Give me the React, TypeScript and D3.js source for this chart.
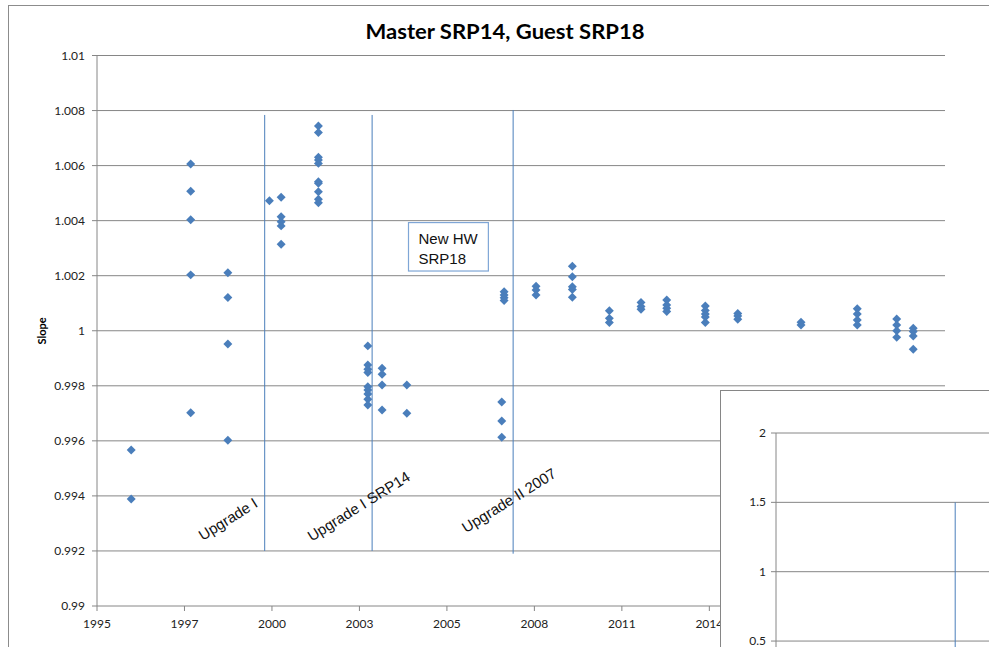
import React from "react";
import * as d3 from "d3";

// measurement dates and the slope readings taken on each date
const obsDates = [
  "1996-01-27", "1997-12-07", "1999-02-05", "2000-05-25", "2000-10-06",
  "2001-12-06", "2003-06-24", "2003-12-04", "2004-09-12", "2007-09-02",
  "2007-09-29", "2008-09-28", "2009-11-17", "2011-01-14", "2012-01-11",
  "2012-10-31", "2014-01-15", "2015-01-21", "2017-01-13", "2018-10-18",
  "2020-01-12", "2020-07-19",
];

const slopes = [
  [0.99567, 0.99389],
  [1.00606, 1.00507, 1.00403, 1.00203, 0.99702],
  [1.00211, 1.00121, 0.99952, 0.99602],
  [1.00472],
  [1.00485, 1.00414, 1.00396, 1.00381, 1.00314],
  [1.00744, 1.0072, 1.0063, 1.0062, 1.00608, 1.00541, 1.00536, 1.00505, 1.00478, 1.00465],
  [0.99945, 0.99876, 0.9986, 0.99848, 0.99797, 0.99785, 0.9977, 0.99751, 0.9973],
  [0.99864, 0.99842, 0.99803, 0.99712],
  [0.99803, 0.997],
  [0.99741, 0.99672, 0.99613],
  [1.00142, 1.0013, 1.0012, 1.0011],
  [1.00162, 1.00148, 1.0013],
  [1.00234, 1.00196, 1.0016, 1.0015, 1.00122],
  [1.00073, 1.00045, 1.0003],
  [1.00103, 1.00088, 1.00078],
  [1.00112, 1.00094, 1.00082, 1.0007],
  [1.0009, 1.00074, 1.00061, 1.0005, 1.0003],
  [1.00063, 1.00054, 1.00042],
  [1.00031, 1.00021],
  [1.0008, 1.00061, 1.00039, 1.00021],
  [1.00043, 1.00021, 1.0, 0.99976],
  [1.00009, 0.99997, 0.99981, 0.99933],
];

// upgrade marker lines: date, top, bottom
const upgradeDates = ["2000-04-01", "2003-08-12", "2008-01-10"];
const upgradeTops = [1.00784, 1.00784, 1.00802];
const upgradeBottoms = [0.992, 0.992, 0.9919];

// rotated notes (baseline start)
const noteTexts = ["Upgrade I", "Upgrade I SRP14", "Upgrade II 2007"];
const noteDates = ["1998-04-25", "2001-09-20", "2006-07-21"];
const noteValues = [0.99236, 0.99233, 0.99264];

// text box
const boxLines = ["New HW", "SRP18"];
const boxDates = ["2004-10-01", "2007-04-02"];
const boxValues = [1.00393, 1.00217];

const yTicks = [0.99, 0.992, 0.994, 0.996, 0.998, 1, 1.002, 1.004, 1.006, 1.008, 1.01];
const insetTicks = [0.5, 1, 1.5, 2];

const W = 989;
const H = 647;
const BLUE = "#4A7EBB";
const GRID = "#868686";
const FONT = "Lato, 'Liberation Sans', sans-serif";

const parse = d3.utcParse("%Y-%m-%d");

const App = () => {
  const start = parse("1995-01-01")!;
  const x = d3.scaleUtc().domain([start, parse("2021-07-17")!]).range([97, 945]);
  const y = d3.scaleLinear().domain([0.99, 1.01]).range([606, 55.5]);

  // Excel date axis: major unit 1000 days
  const xTicks = d3.range(0, 10).map((i) => d3.utcDay.offset(start, i * 1000));
  const yearFmt = d3.utcFormat("%Y");

  const diamond = d3.symbol().type(d3.symbolSquare).size(40)();

  const points = obsDates.flatMap((ds, i) =>
    slopes[i].map((v) => ({ date: parse(ds)!, v }))
  );

  // inset chart scales
  const iy = d3.scaleLinear().domain([0, 2]).range([710.4, 433]);
  const ix = d3.scaleLinear().domain([0, 1]).range([776, 1000]);
  const insetLine = 0.8;

  const bx0 = x(parse(boxDates[0])!);
  const bx1 = x(parse(boxDates[1])!);
  const by0 = y(boxValues[0]);
  const by1 = y(boxValues[1]);

  return (
    <div style={{ position: "fixed", left: 0, top: 0 }}>
      <svg width={W} height={H} style={{ display: "block", background: "#fff" }}>
        {/* chart border */}
        <rect x={8.5} y={5.5} width={W + 10} height={H + 10} fill="#fff" stroke="#8c8c8c" />

        <text x={505} y={39} textAnchor="middle" fontFamily={FONT} fontWeight="bold"
          fontSize={21} textLength={279} lengthAdjust="spacingAndGlyphs" fill="#000">
          Master SRP14, Guest SRP18
        </text>

        {/* gridlines */}
        {yTicks.map((t) => (
          <line key={t} x1={92} x2={945} y1={y(t)} y2={y(t)} stroke={GRID} strokeWidth={1} />
        ))}
        {/* axes */}
        <line x1={97} x2={97} y1={y(1.01)} y2={y(0.99)} stroke={GRID} />
        {xTicks.map((t, i) => (
          <g key={i}>
            <line x1={x(t)} x2={x(t)} y1={606} y2={611} stroke={GRID} />
            <text x={x(t)} y={628} textAnchor="middle" fontFamily={FONT} fontSize={12} fill="#222">
              {yearFmt(t)}
            </text>
          </g>
        ))}
        {yTicks.map((t) => (
          <text key={t} x={85} y={y(t) + 4} textAnchor="end" fontFamily={FONT} fontSize={12} fill="#222">
            {String(+t.toFixed(3))}
          </text>
        ))}
        <text transform="translate(46,331) rotate(-90)" textAnchor="middle" fontFamily={FONT}
          fontWeight="bold" fontSize={11} fill="#000">
          Slope
        </text>

        {/* upgrade lines */}
        {upgradeDates.map((d, i) => (
          <line key={d} x1={x(parse(d)!)} x2={x(parse(d)!)} y1={y(upgradeTops[i])}
            y2={y(upgradeBottoms[i])} stroke={BLUE} strokeWidth={1} />
        ))}

        {/* points */}
        {points.map((p, i) => (
          <path key={i} d={diamond!} fill={BLUE}
            transform={`translate(${x(p.date)},${y(p.v)}) rotate(45)`} />
        ))}

        {/* rotated notes */}
        {noteTexts.map((t, i) => (
          <text key={t} transform={`translate(${x(parse(noteDates[i])!)},${y(noteValues[i])}) rotate(-32)`}
            fontFamily="'Liberation Sans', Arial, sans-serif" fontSize={15} fill="#111">
            {t}
          </text>
        ))}

        {/* text box */}
        <rect x={bx0} y={by0} width={bx1 - bx0} height={by1 - by0} fill="#fff" stroke="#7FA6D6" strokeWidth={1.2} />
        {boxLines.map((l, i) => (
          <text key={l} x={bx0 + 10} y={by0 + 21 + i * 20} fontFamily="'Liberation Sans', Arial, sans-serif"
            fontSize={15} fill="#111">
            {l}
          </text>
        ))}

        {/* inset chart */}
        <rect x={720.5} y={390.5} width={300} height={300} fill="#fff" stroke={GRID} />
        {insetTicks.map((t) => (
          <g key={t}>
            <line x1={771} x2={1000} y1={iy(t)} y2={iy(t)} stroke={GRID} />
            <text x={766} y={iy(t) + 4} textAnchor="end" fontFamily={FONT} fontSize={12} fill="#222">
              {String(t)}
            </text>
          </g>
        ))}
        <line x1={776} x2={776} y1={iy(2)} y2={H} stroke={GRID} />
        <line x1={ix(insetLine)} x2={ix(insetLine)} y1={iy(1.5)} y2={H} stroke={BLUE} />
      </svg>
    </div>
  );
};

export default App;
